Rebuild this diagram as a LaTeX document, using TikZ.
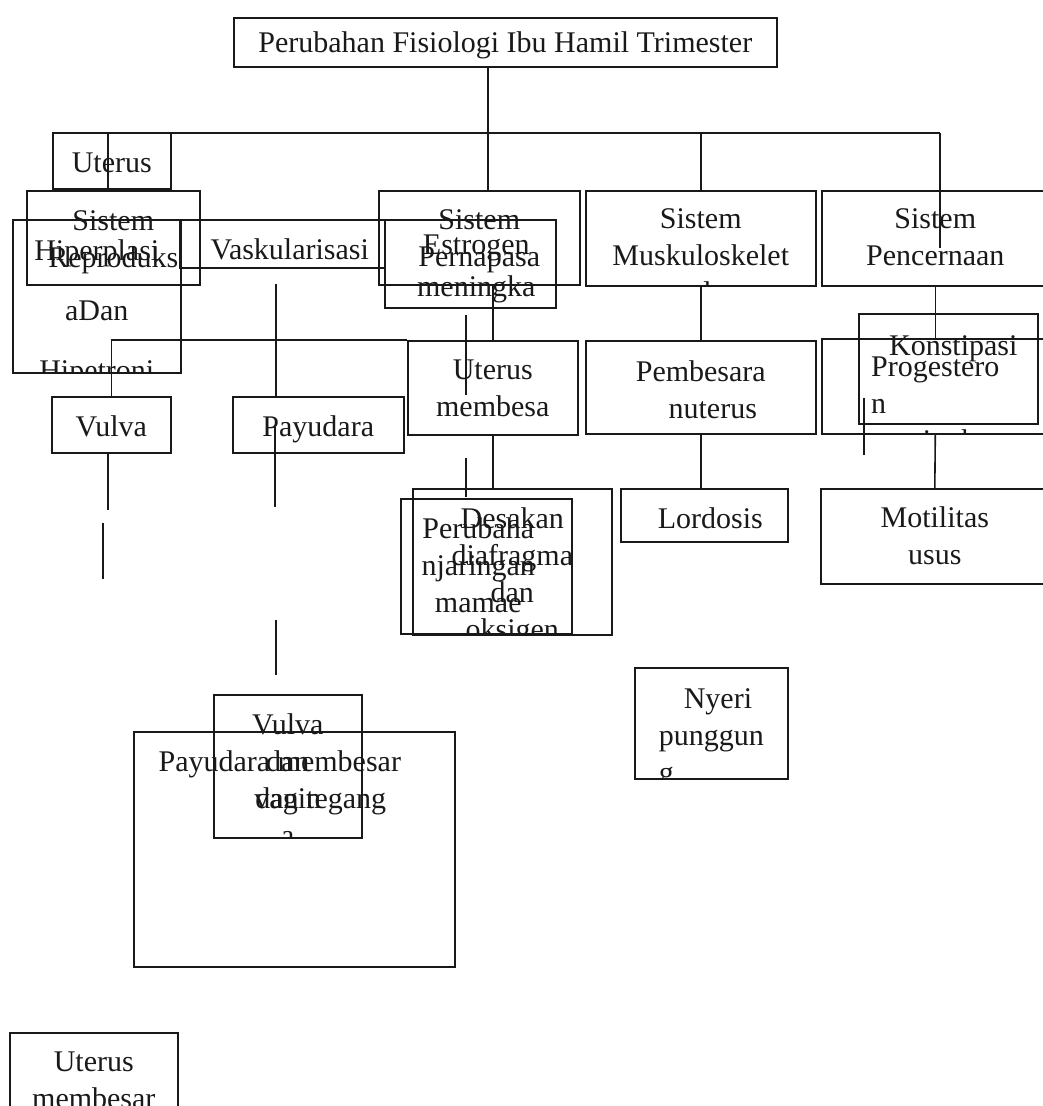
\documentclass[tikz,border=0pt]{standalone}
\usepackage{fontspec}
\setmainfont{Liberation Serif}
\usetikzlibrary{positioning}

\begin{document}
\begin{tikzpicture}[x=1pt, y=-1pt]
\tikzstyle{box}=[rectangle, draw=black!90, line width=1.6pt, inner sep=0pt, anchor=north west]
\tikzstyle{txt}=[inner sep=0pt, align=center, font=\fontsize{30}{37}\selectfont, text=black!90]
\tikzstyle{wire}=[draw=black!90, line width=1.6pt]
\useasboundingbox (0,0) rectangle (1043,1106);
% 1. Boxes
%%%%%%%%%%
\node[box, minimum width=543, minimum height=49] (fisiologi) at (233,17) {};

\node[box, minimum width=118, minimum height=56] (uterus) at (52,132) {};
\node[box, minimum width=173, minimum height=94] (reproduksi) at (26,190) {};
\node[box, minimum width=168, minimum height=153] (hiperplasi) at (12,219) {};
\node[box, minimum width=205, minimum height=48] (vaskular) at (179,219) {};
\node[box, minimum width=201, minimum height=94] (pernapasan) at (378,190) {};
\node[box, minimum width=171, minimum height=88] (estrogen) at (384,219) {};
\node[box, minimum width=230, minimum height=95] (muskulo) at (585,190) {};
\node[box, minimum width=227, minimum height=95] (pencernaan) at (821,190) {};

\node[box, minimum width=170, minimum height=94] (membesa) at (407,340) {};
\node[box, minimum width=230, minimum height=93] (pembesaran) at (585,340) {};
\node[box, minimum width=227, minimum height=95] (progesteron) at (821,338) {};
\node[box, minimum width=179, minimum height=110] (konstipasi) at (858,313) {};
\node[box, minimum width=119, minimum height=56] (vulva) at (51,396) {};
\node[box, minimum width=171, minimum height=56] (payudara) at (232,396) {};

\node[box, minimum width=199, minimum height=146] (desakan) at (412,488) {};
\node[box, minimum width=171, minimum height=135] (jaringan) at (400,498) {};
\node[box, minimum width=167, minimum height=53] (lordosis) at (620,488) {};
\node[box, minimum width=228, minimum height=95] (motilitas) at (820,488) {};
\node[box, minimum width=153, minimum height=111] (nyeri) at (634,667) {};

\node[box, minimum width=148, minimum height=143] (vagina) at (213,694) {};
\node[box, minimum width=321, minimum height=235] (payumembesar) at (133,731) {};
\node[box, minimum width=168, minimum height=100] (uterusbesar) at (9,1032) {};

% 2. Texts
%%%%%%%%%%
\node[txt, below=14pt of fisiologi.north] (fisiologi-t) {Perubahan Fisiologi Ibu Hamil Trimester};
\node[txt, below=21pt of uterus.north] (uterus-t) {Uterus};
\node[txt, below=19pt of vaskular.north] (vaskular-t) {\hspace*{15pt}Vaskularisasi};
\node[txt, below=19pt of pernapasan.north] (pernapasan-t) {Sistem\\Pernapasa};
\node[txt, below=16pt of estrogen.north, xshift=6pt] (estrogen-t) {Estrogen\\[5pt]meningka};
\node[txt, below=18pt of pencernaan.north] (pencernaan-t) {Sistem\\Pencernaan};
\node[txt, below=20pt of membesa.north] (membesa-t) {Uterus\\membesa};
\node[txt, below=20pt of pembesaran.north] (pembesaran-t) {Pembesara\\\hspace*{24pt}nuterus};
\node[txt, below=22pt of konstipasi.north, xshift=5pt] (konstipasi-t) {Konstipasi};
\node[txt, below=19pt of vulva.north] (vulva-t) {Vulva};
\node[txt, below=19pt of payudara.north] (payudara-t) {Payudara};
\node[txt, below=19pt of jaringan.north, xshift=-8pt] (jaringan-t) {Perubaha\\njaringan\\mamae};
\node[txt, below=19pt of lordosis.north, xshift=6pt] (lordosis-t) {Lordosis};
\node[txt, below=18pt of motilitas.north] (motilitas-t) {Motilitas\\usus};
\node[txt, below=19pt of payumembesar.north] (payumembesar-t) {Payudara membesar\hspace*{29pt}\\\hspace*{53pt}dan tegang};
\node[txt, below=20pt of uterusbesar.north] (uterusbesar-t) {Uterus\\membesar};

% texts that run past their box
\begin{scope}
\clip (reproduksi.north west) rectangle (reproduksi.south east);
\node[txt, below=20pt of reproduksi.north] (reproduksi-t) {Sistem\\Reproduks\\i};
\end{scope}
\begin{scope}
\clip (hiperplasi.north west) rectangle (hiperplasi.south east);
\node[txt, below=20pt of hiperplasi.north] (hiperplasi-t) {Hiperplasi\\[23pt]aDan\\[23pt]Hipetroni};
\end{scope}
\begin{scope}
\clip (muskulo.north west) rectangle (muskulo.south east);
\node[txt, below=18pt of muskulo.north] (muskulo-t) {Sistem\\Muskuloskelet\\al};
\end{scope}
\begin{scope}
\clip (progesteron.north west) rectangle (progesteron.south east);
\node[txt, align=left, below=19pt of progesteron.north] (progesteron-t) {Progestero\\n\\meningkat};
\end{scope}
\begin{scope}
\clip (desakan.north west) rectangle (desakan.south east);
\node[txt, below=19pt of desakan.north] (desakan-t) {Desakan\\diafragma\\dan\\oksigen};
\end{scope}
\begin{scope}
\clip (nyeri.north west) rectangle (nyeri.south east);
\node[txt, align=left, below=21pt of nyeri.north] (nyeri-t) {\hspace*{25pt}Nyeri\\punggun\\g};
\end{scope}
\begin{scope}
\clip (vagina.north west) rectangle (vagina.south east);
\node[txt, below=19pt of vagina.north] (vagina-t) {Vulva\\dan\\vagin\\a};
\end{scope}

% 3. Lines
%%%%%%%%%%
\coordinate (busL) at (108,133);
\coordinate (busR) at (940,133);
\coordinate (trunk) at (488,133);
\coordinate (pencEnd) at (940,248);
\coordinate (payTop) at (276,284);

\path[wire] (busL) -- (busR);
\path[wire] (trunk |- fisiologi.south) -- (trunk |- pernapasan.north);
\path[wire] (busL) -- (busL |- reproduksi.north);
\path[wire] (muskulo.north |- busL) -- (muskulo.north);
\path[wire] (busR) -- (pencEnd);
\path[wire] (membesa.north |- pernapasan.south) -- (membesa.north);
\path[wire] (membesa.north west) -| (vulva.north);
\path[wire] (payTop) -- (payTop |- payudara.north);
\path[wire] (muskulo.south) -- (pembesaran.north);
\path[wire] (pembesaran.south) -- (pembesaran.south |- lordosis.north);
\path[wire] (membesa.south) -- (membesa.south |- desakan.north);
\path[wire] (pencernaan.south) -- (progesteron.north);
\path[wire] (progesteron.south) -- (motilitas.north);

% loose strokes
\coordinate (m1) at (466,315); \coordinate (m2) at (466,395);
\coordinate (m3) at (466,458); \coordinate (m4) at (466,497);
\coordinate (k1) at (864,398); \coordinate (k2) at (864,455);
\coordinate (v1) at (108,510);
\coordinate (v2) at (103,523); \coordinate (v3) at (103,579);
\coordinate (p1) at (275,427); \coordinate (p2) at (275,475);
\coordinate (p3) at (275,507);
\coordinate (p4) at (276,620); \coordinate (p5) at (276,675);

\path[wire] (m1) -- (m2);
\path[wire] (m3) -- (m4);
\path[wire] (k1) -- (k2);
\path[wire] (vulva.south -| v1) -- (v1);
\path[wire] (v2) -- (v3);
\path[wire, line width=2.8pt] (p1) -- (p2);
\path[wire] (p1) -- (p3);
\path[wire] (p4) -- (p5);

\end{tikzpicture}
\end{document}
